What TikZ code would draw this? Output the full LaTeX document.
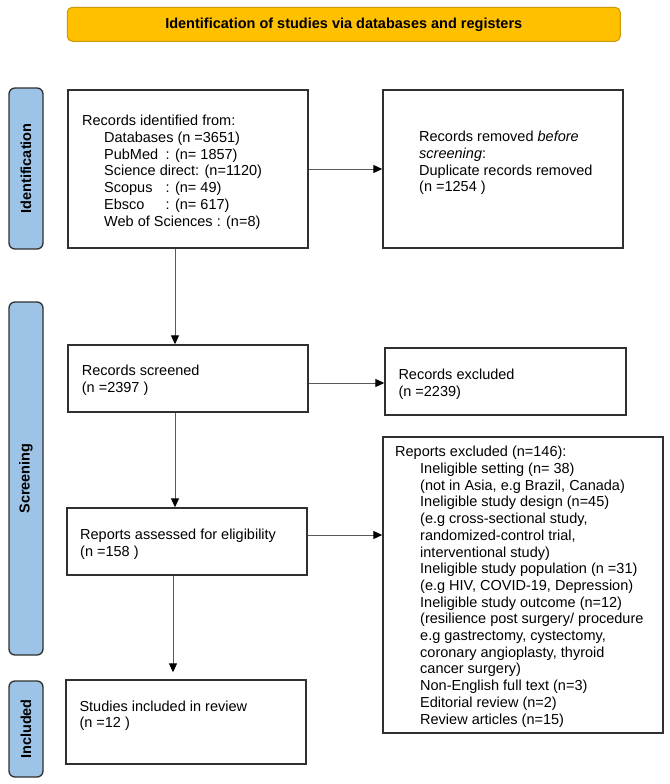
\documentclass[tikz,border=0pt]{standalone}
\usepackage{fontspec}
\setmainfont{Liberation Sans}
\usetikzlibrary{arrows.meta}
\definecolor{headgold}{HTML}{FFC000}
\definecolor{headedge}{HTML}{C99A06}
\definecolor{phaseblue}{HTML}{9DC3E6}
\definecolor{edgegray}{HTML}{303030}
\definecolor{linegray}{HTML}{5A5A5A}

\begin{document}
\begin{tikzpicture}[x=1pt,y=-1pt,
    font=\fontsize{14.5}{16.7}\selectfont,
    header/.style={draw=headedge,line width=1pt,fill=headgold,rounded corners=5pt,minimum width=553pt,minimum height=34pt,font=\fontsize{14.5}{16.7}\selectfont\bfseries},
    phase/.style={draw=edgegray,line width=1.3pt,fill=phaseblue,rounded corners=6pt,rotate=90,minimum height=34pt,inner sep=0pt,font=\fontsize{14.5}{16.7}\selectfont\bfseries},
    box/.style={draw=edgegray,line width=1.4pt,minimum width=240pt,inner sep=0pt},
    txt/.style={anchor=north west,align=left,inner sep=0pt},
    arr/.style={draw=linegray,line width=1pt,-{Triangle[length=9pt,width=8pt,color=black]}}]

  \useasboundingbox (0,0) rectangle (669,784);

  \node[header] (title) at (343.75,24.3) {Identification of studies via databases and registers};

  \node[phase,minimum width=161pt] (ident)  at (26,168.5) {Identification};
  \node[phase,minimum width=353pt] (screen) at (26,478.5) {Screening};
  \node[phase,minimum width=96pt]  (incl)   at (26,729)   {Included};

  \node[box,minimum height=158pt]                   (found)    at (188,169)   {};
  \node[box,minimum height=158pt]                   (removed)  at (503,169)   {};
  \node[box,minimum height=67pt]                    (screened) at (188,378.5) {};
  \node[box,minimum height=67pt,minimum width=241pt](excl)     at (505.5,381.5) {};
  \node[box,minimum height=67pt]                    (assessed) at (187,541.5) {};
  \node[box,minimum height=296pt,minimum width=280pt](repexcl) at (523,585)   {};
  \node[box,minimum height=84pt]                    (included) at (186,722)   {};

  \node[txt] (foundtxt) at (82,115.1) {Records identified from:\\
    \hspace*{22pt}Databases (n =3651)\\
    \hspace*{22pt}\makebox[61.5pt][l]{PubMed}: (n= 1857)\\
    \hspace*{22pt}Science direct: (n=1120)\\
    \hspace*{22pt}\makebox[61.5pt][l]{Scopus}: (n= 49)\\
    \hspace*{22pt}\makebox[61.5pt][l]{Ebsco}: (n= 617)\\
    \hspace*{22pt}Web of Sciences : (n=8)};
  \node[txt] (removedtxt) at (419,131.1) {Records removed \textit{before}\\
    \textit{screening}:\\
    Duplicate records removed\\
    (n =1254 )};
  \node[txt] (screenedtxt) at (81.7,365.1) {Records screened\\(n =2397 )};
  \node[txt] (excltxt) at (398.3,368.7) {Records excluded\\(n =2239)};
  \node[txt] (assessedtxt) at (80,528.7) {Reports assessed for eligibility\\(n =158 )};
  \node[txt] (repexcltxt) at (395,446.1) {Reports excluded (n=146):\\
    \hspace*{25pt}Ineligible setting (n= 38)\\
    \hspace*{25pt}(not in Asia, e.g Brazil, Canada)\\
    \hspace*{25pt}Ineligible study design (n=45)\\
    \hspace*{25pt}(e.g cross-sectional study,\\
    \hspace*{25pt}randomized-control trial,\\
    \hspace*{25pt}interventional study)\\
    \hspace*{25pt}Ineligible study population (n =31)\\
    \hspace*{25pt}(e.g HIV, COVID-19, Depression)\\
    \hspace*{25pt}Ineligible study outcome (n=12)\\
    \hspace*{25pt}(resilience post surgery/ procedure\\
    \hspace*{25pt}e.g gastrectomy, cystectomy,\\
    \hspace*{25pt}coronary angioplasty, thyroid\\
    \hspace*{25pt}cancer surgery)\\
    \hspace*{25pt}Non-English full text (n=3)\\
    \hspace*{25pt}Editorial review (n=2)\\
    \hspace*{25pt}Review articles (n=15)};
  \node[txt] (includedtxt) at (79.3,700.4) {Studies included in review\\(n =12 )};

  \draw[arr] (found.east) -- (removed.west);
  \draw[arr] ([xshift=-13pt]found.south) -- ([xshift=-13pt]screened.north);
  \coordinate (exit3) at ([yshift=-4.5pt]screened.east);
  \draw[arr] (exit3) -- (exit3 -| excl.west);
  \draw[arr] ([xshift=-13pt]screened.south) -- ([xshift=-12pt]assessed.north);
  \coordinate (exit5) at ([yshift=6.5pt]assessed.east);
  \draw[arr] (exit5) -- (exit5 -| repexcl.west);
  \draw[arr,shorten >=7pt] ([xshift=-14pt]assessed.south) -- ([xshift=-13pt]included.north);
\end{tikzpicture}
\end{document}
